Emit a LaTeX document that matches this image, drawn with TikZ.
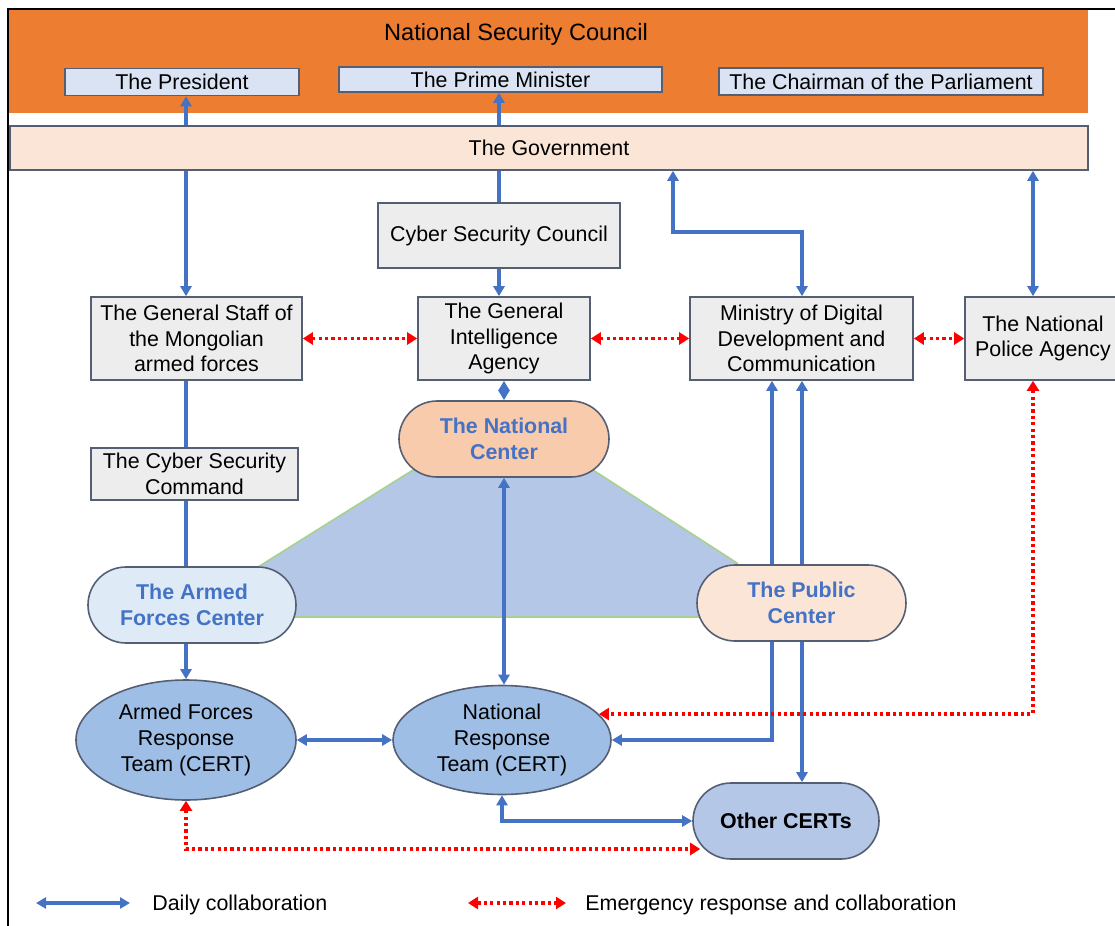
\documentclass[tikz,border=0pt]{standalone}
\usepackage{fontspec}
\setmainfont{Liberation Sans}
\usetikzlibrary{calc}
\usetikzlibrary{arrows.meta}
\usetikzlibrary{shapes.geometric}

\definecolor{nscorange}{HTML}{ED7D31}
\definecolor{toplight}{HTML}{DAE3F3}
\definecolor{boxgray}{HTML}{EDEDED}
\definecolor{edgegray}{RGB}{85,95,115}
\definecolor{govpeach}{HTML}{FBE5D6}
\definecolor{ncpeach}{HTML}{F8CBAD}
\definecolor{afclight}{HTML}{DEEBF7}
\definecolor{teamblue}{RGB}{158,190,230}
\definecolor{trapblue}{HTML}{B4C7E7}
\definecolor{trapgreen}{HTML}{A9D18E}
\definecolor{linkblue}{HTML}{4472C4}
\definecolor{alertred}{HTML}{FF0000}

\newcommand{\txtsize}{\fontsize{10.7}{12.8}\selectfont}

\tikzset{
  unitbox/.style={draw=edgegray, line width=0.8pt, fill=boxgray, align=center,
    inner sep=0pt, font=\txtsize},
  topbox/.style={unitbox, fill=toplight},
  centerbox/.style={unitbox, rounded corners=19pt, text=linkblue,
    font=\fontsize{10.7}{13}\selectfont\bfseries},
  teambox/.style={unitbox, ellipse, fill=teamblue},
  daily/.style={draw=linkblue, line width=1.6pt, >={Triangle[length=5pt,width=5.5pt]}},
  emerg/.style={draw=alertred, line width=1.6pt, dash pattern=on 1.6pt off 1.6pt,
    >={Triangle[length=5pt,width=6pt]}}
}

\begin{document}
\begin{tikzpicture}[x=0.5pt,y=-0.5pt]
\def\u{0.5pt}
\useasboundingbox (0,0) rectangle (1115,926);

% frame
\draw[line width=1pt] (8,926) -- (8,9) -- (1115,9);

% the shaded area between the three centers
\path[fill=trapblue, draw=trapgreen, line width=0.8pt]
  (250,572) -- (413,470) -- (593,470) -- (737,563) -- (737,617) -- (250,617) -- cycle;

% columns for the vertical links
\coordinate (colA) at (186,0);
\coordinate (colPM) at (499,0);
\coordinate (colG) at (673,0);
\coordinate (colM1) at (772,0);
\coordinate (colM2) at (802,0);
\coordinate (colP) at (1033,0);
\coordinate (bendM) at (802,232);

\node[fill=nscorange, minimum width=1079*\u, minimum height=103*\u, inner sep=0pt] (nsc) at (548.5,61.5) {};
\node[font=\fontsize{11.8}{14}\selectfont] (nsctitle) at (516,34) {National Security Council};
\node[topbox, minimum width=234*\u, minimum height=27*\u] (pres) at (182,82) {The President};
\node[topbox, minimum width=323*\u, minimum height=25*\u] (pm) at (500.5,79.5) {The Prime Minister};
\node[topbox, minimum width=324*\u, minimum height=27*\u] (chair) at (881,81.5) {The Chairman of the Parliament};

\node[unitbox, fill=govpeach, minimum width=1078*\u, minimum height=44*\u] (gov) at (549,148) {The Government};

\node[unitbox, minimum width=242*\u, minimum height=65*\u] (csc) at (499,235.5) {Cyber Security Council};
\node[unitbox, minimum width=211*\u, minimum height=83*\u] (gs) at (196.5,338.5) {The General Staff of\\the Mongolian\\armed forces};
\node[unitbox, minimum width=172*\u, minimum height=83*\u] (gia) at (504,338.5) {The General\\Intelligence\\Agency};
\node[unitbox, minimum width=223*\u, minimum height=83*\u] (min) at (801.5,338.5) {Ministry of Digital\\Development and\\Communication};
\node[unitbox, minimum width=156*\u, minimum height=83*\u] (police) at (1043,338.5) {The National\\Police Agency};
\node[unitbox, minimum width=207*\u, minimum height=52*\u] (cmd) at (194.5,474) {The Cyber Security\\Command};

\node[centerbox, fill=ncpeach, minimum width=210*\u, minimum height=76*\u] (nc) at (504,439) {The National\\Center};
\node[centerbox, fill=afclight, minimum width=208*\u, minimum height=76*\u] (afc) at (192,605) {The Armed\\Forces Center};
\node[centerbox, fill=govpeach, minimum width=209*\u, minimum height=76*\u] (pub) at (801.5,603) {The Public\\Center};

\node[teambox, minimum width=220*\u, minimum height=120*\u] (afrt) at (186,740) {Armed Forces\\Response\\Team (CERT)};
\node[teambox, minimum width=218*\u, minimum height=109*\u] (nrt) at (502,740) {National\\Response\\Team (CERT)};
\node[centerbox, fill=trapblue, text=black, minimum width=186*\u, minimum height=76*\u] (other) at (786,821) {Other CERTs};

% daily links
\draw[daily,->] (gov.north -| colA) -- (pres.south -| colA);
\draw[daily,->] (gov.north -| colPM) -- (pm.south -| colPM);
\draw[daily,->] (gov.south -| colA) -- (gs.north -| colA);
\draw[daily] (gov.south -| colPM) -- (csc.north -| colPM);
\draw[daily,->] (csc.south -| colPM) -- (gia.north -| colPM);
\draw[daily,<->] (gov.south -| colG) |- (bendM) -- (min.north -| bendM);
\draw[daily,<->] (gov.south -| colP) -- (police.north -| colP);
\draw[daily] (gs.south -| colA) -- (cmd.north -| colA);
\draw[daily] (cmd.south -| colA) -- (afc.north -| colA);
\draw[daily,->] (afc.south -| colA) -- (afrt.north -| colA);
\draw[daily,<->] (gia.south) -- (nc.north);
\draw[daily,<->] (nc.south) -- (nrt.north -| nc.south);
\draw[daily,->] (pub.north -| colM1) -- (min.south -| colM1);
\draw[daily,->] (pub.north -| colM2) -- (min.south -| colM2);
\draw[daily,->] (pub.south -| colM1) |- (nrt.east);
\draw[daily,->] (pub.south -| colM2) -- (other.north -| colM2);
\draw[daily,<->] (afrt.east) -- (nrt.west);
\draw[daily,<->] (nrt.south) |- (other.west);

% emergency links
\coordinate (otherlow) at ($(other.west)+(8,28)$);
\draw[emerg,<->] (gs.east) -- (gia.west);
\draw[emerg,<->] (gia.east) -- (min.west);
\draw[emerg,<->] (min.east) -- (police.west);
\draw[emerg,<->] (police.south -| colP) |- (nrt.15);
\draw[emerg,<->] (afrt.south) |- (otherlow);

% legend
\coordinate (lgA) at (36,903);
\coordinate (lgB) at (130,903);
\coordinate (lgC) at (468,903);
\coordinate (lgD) at (566,903);
\draw[daily,<->] (lgA) -- (lgB);
\node[anchor=base west, font=\txtsize, inner sep=0pt] (lgdaily) at (152,910) {Daily collaboration};
\draw[emerg,<->] (lgC) -- (lgD);
\node[anchor=base west, font=\txtsize, inner sep=0pt] (lgemerg) at (585,910) {Emergency response and collaboration};
\end{tikzpicture}
\end{document}
